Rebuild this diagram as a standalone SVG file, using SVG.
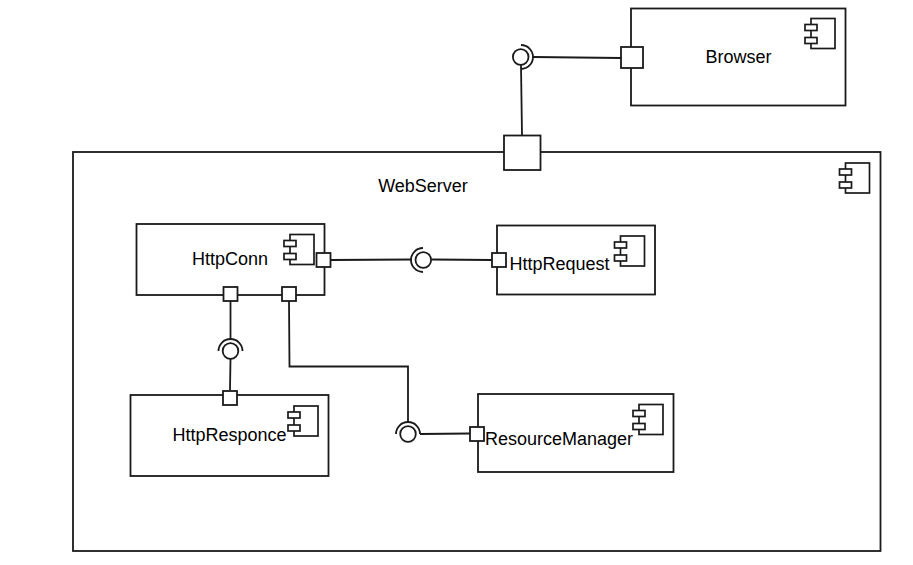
<svg xmlns="http://www.w3.org/2000/svg" width="913" height="565" viewBox="0 0 913 565">
<defs>
<style>
.b{fill:#fff;stroke:#1a1a1a;stroke-width:1.8}
.i{fill:#fff;stroke:#1a1a1a;stroke-width:1.7}
.p{fill:#fff;stroke:#1a1a1a;stroke-width:1.8}
.c{fill:none;stroke:#1a1a1a;stroke-width:1.8}
.l{font-family:"Liberation Sans",Arial,sans-serif;font-size:18px;fill:#000;text-anchor:middle}
</style>
<g id="icon"><rect class="i" x="6" y="0" width="24" height="30"/><rect class="i" x="0" y="6" width="12" height="6"/><rect class="i" x="0" y="19" width="12" height="6"/></g>
</defs>
<rect width="913" height="565" fill="#fff"/>
<g id="WebServer"><rect class="b" x="73" y="152" width="807.500" height="399"/><use href="#icon" x="839.500" y="163"/><text class="l" x="423" y="191.500">WebServer</text></g>
<g id="Browser"><rect class="b" x="631" y="8.500" width="214.500" height="97"/><use href="#icon" x="805" y="18.500"/><text class="l" x="738.500" y="63">Browser</text></g>
<g id="HttpConn"><rect class="b" x="136.500" y="224" width="188" height="71"/><use href="#icon" x="284" y="234.500"/><text class="l" x="230" y="265">HttpConn</text></g>
<g id="HttpRequest"><rect class="b" x="497" y="225.500" width="158" height="69"/><use href="#icon" x="614.500" y="236"/><text class="l" x="559.500" y="270">HttpRequest</text></g>
<g id="HttpResponce"><rect class="b" x="130.500" y="395" width="198" height="81"/><use href="#icon" x="288" y="406"/><text class="l" x="229.500" y="441">HttpResponce</text></g>
<g id="ResourceManager"><rect class="b" x="478" y="394" width="195.500" height="78"/><use href="#icon" x="633" y="404.500"/><text class="l" x="559" y="445">ResourceManager</text></g>
<g id="connectors">
<path class="c" d="M533 57 L621 58"/>
<path class="c" d="M521 65 L522 135.500"/>
<path class="c" d="M331 260 L412 259.500"/>
<path class="c" d="M431.500 259.500 L492 260"/>
<path class="c" d="M230.500 301 L230.500 340"/>
<path class="c" d="M230.500 359 L230 390"/>
<path class="c" d="M289 301 L289.500 366.500 L408 366.500 L408 422"/>
<path class="c" d="M420 434 L470 433.500"/>
<path class="c" d="M521 45 A12 12 0 0 1 521 69"/>
<circle class="c" cx="520.700" cy="57" r="7.800"/>
<path class="c" d="M423 248 A12 12 0 0 0 423 272"/>
<circle class="c" cx="423.300" cy="260" r="7.800"/>
<path class="c" d="M218.500 351 A12 12 0 0 1 242.500 351"/>
<circle class="c" cx="230.500" cy="351" r="7.800"/>
<path class="c" d="M396 434 A12 12 0 0 1 420 434"/>
<circle class="c" cx="408" cy="434" r="7.800"/>
</g>
<g id="ports">
<rect class="p" x="621" y="47" width="22" height="21"/>
<rect class="p" x="504" y="135.500" width="36.500" height="34.500"/>
<rect class="p" x="316.500" y="253" width="14" height="14"/>
<rect class="p" x="223.500" y="287" width="14" height="14"/>
<rect class="p" x="282" y="287" width="14" height="14"/>
<rect class="p" x="492" y="253" width="14" height="14"/>
<rect class="p" x="223" y="391" width="14" height="14"/>
<rect class="p" x="470" y="427" width="14" height="14"/>
</g>
</svg>
